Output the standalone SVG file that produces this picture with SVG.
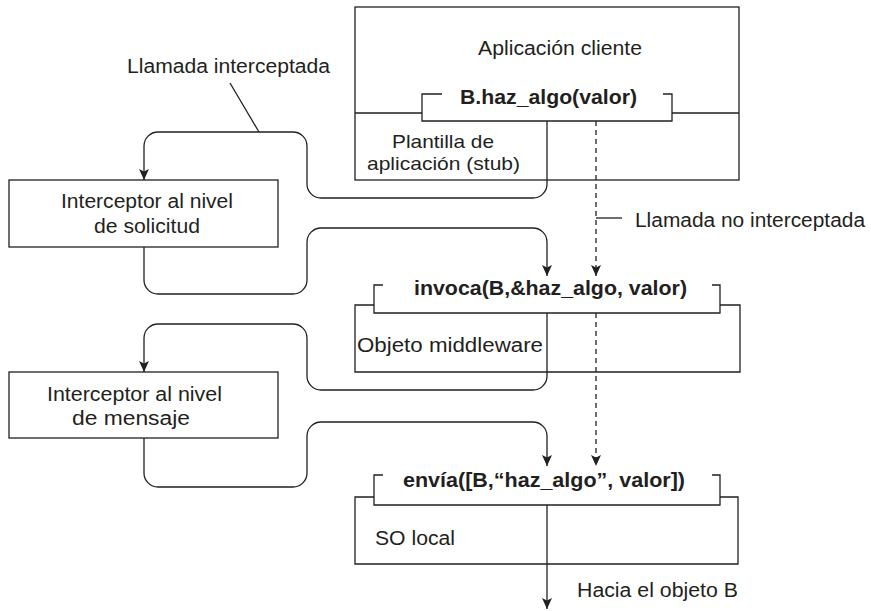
<svg xmlns="http://www.w3.org/2000/svg" width="871" height="611" viewBox="0 0 871 611">
<style>
  .ln{fill:none;stroke:#231f20;stroke-width:1.3}
  .box{fill:#fff;stroke:#231f20;stroke-width:1.3}
  .dash{fill:none;stroke:#231f20;stroke-width:1.3;stroke-dasharray:5,4}
  .t{font-family:"Liberation Sans",Arial,sans-serif;font-size:20px;fill:#231f20}
  .s{font-size:19px}
  .b{font-weight:bold}
</style>
<defs>
  <marker id="arr" markerUnits="userSpaceOnUse" markerWidth="12" markerHeight="12" refX="11" refY="5" orient="auto">
    <path d="M0,0 L11,5 L0,10 L2.5,5 z" fill="#231f20"/>
  </marker>
</defs>
<rect width="871" height="611" fill="#fff"/>

<g id="connectors">
  <path class="ln" d="M547,121 V184 A14,14 0 0 1 533,198 H321 A14,14 0 0 1 307,184 V146 A14,14 0 0 0 293,132 H158 A14,14 0 0 0 144,146 V180" marker-end="url(#arr)"/>
  <path class="ln" d="M144,247 V280 A14,14 0 0 0 158,294 H293 A14,14 0 0 0 307,280 V242 A14,14 0 0 1 321,228 H533 A14,14 0 0 1 547,242 V276" marker-end="url(#arr)"/>
  <path class="ln" d="M547,313 V376 A14,14 0 0 1 533,390 H321 A14,14 0 0 1 307,376 V338 A14,14 0 0 0 293,324 H158 A14,14 0 0 0 144,338 V372" marker-end="url(#arr)"/>
  <path class="ln" d="M144,438 V473 A14,14 0 0 0 158,487 H293 A14,14 0 0 0 307,473 V436 A14,14 0 0 1 321,422 H533 A14,14 0 0 1 547,436 V466" marker-end="url(#arr)"/>
  <path class="ln" d="M547,505 V609" marker-end="url(#arr)"/>
  <path class="dash" d="M596,121 V276" marker-end="url(#arr)"/>
  <path class="dash" d="M596,313 V466" marker-end="url(#arr)"/>
  <path class="ln" d="M230,83 L259,132"/>
  <path class="ln" d="M596,218 H622"/>
</g>

<g id="aplicacion-cliente">
  <rect class="box" x="355" y="7" width="384" height="173" style="fill:none"/>
  <path class="ln" d="M355,113 H422 M672,113 H739"/>
  <path class="ln" d="M442,94 H422 V121 H672 V94 H663"/>
  <text class="t" x="478" y="55" textLength="164" lengthAdjust="spacingAndGlyphs">Aplicación cliente</text>
  <text class="t b" x="460" y="104" textLength="177" lengthAdjust="spacingAndGlyphs">B.haz_algo(valor)</text>
  <text class="t s" x="392" y="148" textLength="102" lengthAdjust="spacingAndGlyphs">Plantilla de</text>
  <text class="t s" x="367" y="170" textLength="153" lengthAdjust="spacingAndGlyphs">aplicación (stub)</text>
</g>

<g id="label-interceptada">
  <text class="t" x="127" y="73" textLength="203" lengthAdjust="spacingAndGlyphs">Llamada interceptada</text>
</g>

<g id="label-no-interceptada">
  <text class="t" x="635" y="227" textLength="230" lengthAdjust="spacingAndGlyphs">Llamada no interceptada</text>
</g>

<g id="interceptor-solicitud">
  <rect class="box" x="9" y="180" width="269" height="67"/>
  <text class="t" x="61" y="208" textLength="172" lengthAdjust="spacingAndGlyphs">Interceptor al nivel</text>
  <text class="t" x="94" y="233" textLength="106" lengthAdjust="spacingAndGlyphs">de solicitud</text>
</g>

<g id="objeto-middleware">
  <path class="ln" d="M374,305 H355 V372 H740 V305 H720"/>
  <path class="ln" d="M383,285 H374 V313 H720 V285 H712"/>
  <text class="t b" x="414" y="295" textLength="273" lengthAdjust="spacingAndGlyphs">invoca(B,&amp;haz_algo, valor)</text>
  <text class="t" x="357" y="352" textLength="186" lengthAdjust="spacingAndGlyphs">Objeto middleware</text>
</g>

<g id="interceptor-mensaje">
  <rect class="box" x="9" y="372" width="269" height="66"/>
  <text class="t" x="47" y="401" textLength="175" lengthAdjust="spacingAndGlyphs">Interceptor al nivel</text>
  <text class="t" x="72" y="425" textLength="118" lengthAdjust="spacingAndGlyphs">de mensaje</text>
</g>

<g id="so-local">
  <path class="ln" d="M374,497 H355 V564 H738 V497 H720"/>
  <path class="ln" d="M383,475 H374 V505 H720 V475 H712"/>
  <text class="t b" x="403" y="487" textLength="282" lengthAdjust="spacingAndGlyphs">envía([B,“haz_algo”, valor])</text>
  <text class="t" x="375" y="545" textLength="80" lengthAdjust="spacingAndGlyphs">SO local</text>
</g>

<g id="label-objeto-b">
  <text class="t" x="577" y="597" textLength="161" lengthAdjust="spacingAndGlyphs">Hacia el objeto B</text>
</g>
</svg>
